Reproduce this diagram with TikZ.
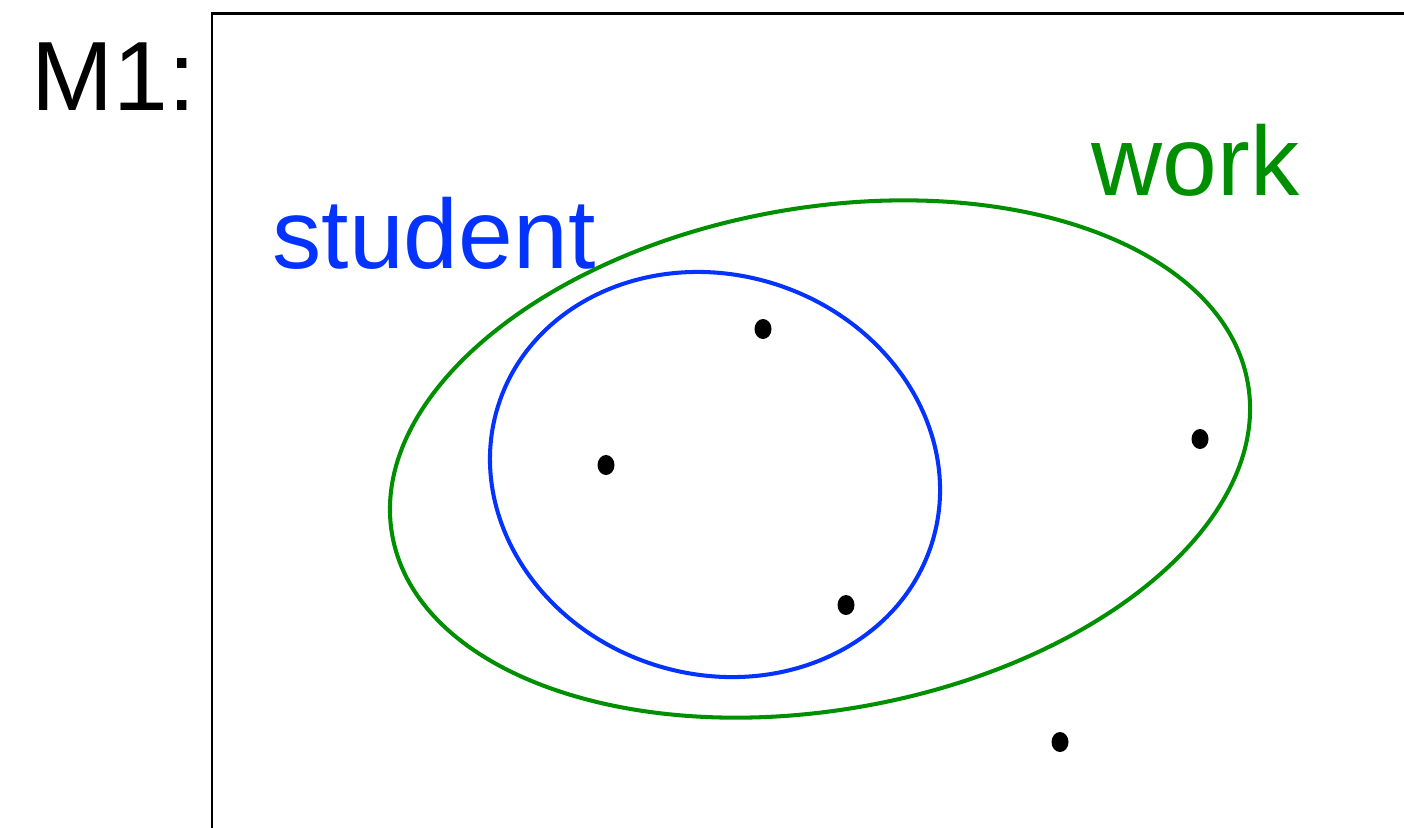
\documentclass[tikz,border=0pt]{standalone}
\usepackage{fontspec}
\setmainfont{Liberation Sans}
\usetikzlibrary{shapes.geometric}
\definecolor{setblue}{RGB}{4,51,255}
\definecolor{setgreen}{RGB}{0,143,0}
\begin{document}
\begin{tikzpicture}
\tikzset{
  setline/.style={line width=1.15pt},
  elem/.style={ellipse,fill=black,inner sep=0pt,outer sep=0pt,minimum width=0.17cm,minimum height=0.20cm},
  lbl/.style={anchor=base west,inner sep=0pt,font=\fontsize{28}{30}\selectfont}
}
\useasboundingbox (0,0) rectangle (14.04,8.27);
\clip (0,0) rectangle (14.04,8.27);
\draw[line width=0.85pt] (14.6,-1) |- (2.12,8.14) -- (2.12,-1);
\node[lbl] (m1) at (0.31,7.17) {M1:};
\node[lbl,text=setblue] (student) at (2.72,5.59) {student};
\node[lbl,text=setgreen] (work) at (10.91,6.32) {work};
\draw[setline,setgreen] (8.20,3.68) ellipse[x radius=4.345,y radius=2.51,rotate=10.1];
\draw[setline,setblue] (7.15,3.525) ellipse[x radius=2.275,y radius=1.997,rotate=-18];
\node[elem] (p1) at (7.63,4.98) {};
\node[elem] (p2) at (6.06,3.62) {};
\node[elem] (p3) at (8.46,2.22) {};
\node[elem] (p4) at (12.00,3.88) {};
\node[elem] (p5) at (10.60,0.85) {};
\end{tikzpicture}
\end{document}
